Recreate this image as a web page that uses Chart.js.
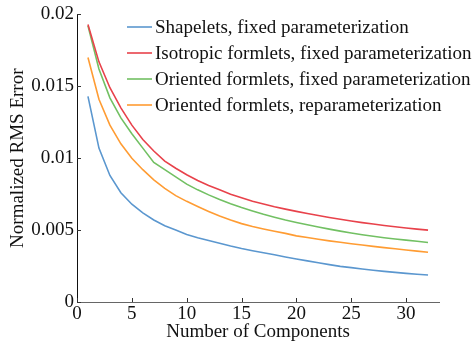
<!DOCTYPE html>
<html>
<head>
<meta charset="utf-8">
<script src="https://cdn.jsdelivr.net/npm/chart.js@4/dist/chart.umd.min.js"></script>
<style>
  html, body { margin: 0; padding: 0; background: #fff; }
  #wrap { width: 474px; height: 343px; }
</style>
</head>
<body>
<div id="wrap"><canvas id="errChart" width="474" height="343"></canvas></div>
<script>
// ---- data ----
const components = [1, 2, 3, 4, 5, 6, 7, 8, 9, 10, 11, 12, 13, 14, 15, 16,
                    17, 18, 19, 20, 21, 22, 23, 24, 25, 26, 27, 28, 29, 30, 31, 32];

const shapeletsFixed = [0.0143, 0.0107, 0.0088, 0.0076, 0.0068, 0.0062, 0.0057, 0.0053,
                        0.0050, 0.0047, 0.00447, 0.00427, 0.00408, 0.00389, 0.00372, 0.00357,
                        0.00343, 0.00328, 0.00313, 0.00299, 0.00286, 0.00273, 0.0026, 0.00248,
                        0.00239, 0.0023, 0.00221, 0.00213, 0.00206, 0.00199, 0.00193, 0.00188];
const isotropicFixed = [0.0193, 0.0167, 0.0149, 0.0135, 0.0123, 0.0113, 0.0105, 0.0098,
                        0.0093, 0.00885, 0.00845, 0.0081, 0.0078, 0.0075, 0.00725, 0.0070,
                        0.00682, 0.00663, 0.00646, 0.0063, 0.00615, 0.00601, 0.00588, 0.00575,
                        0.00563, 0.00552, 0.00542, 0.00532, 0.00523, 0.00515, 0.00507, 0.0050];
const orientedFixed  = [0.0192, 0.0162, 0.0142, 0.0128, 0.0117, 0.0107, 0.0097, 0.0092,
                        0.0087, 0.0082, 0.0078, 0.00745, 0.00713, 0.00684, 0.00657, 0.00633,
                        0.0061, 0.0059, 0.0057, 0.00553, 0.00537, 0.00522, 0.00507, 0.00493,
                        0.0048, 0.00468, 0.00457, 0.00447, 0.00438, 0.0043, 0.00422, 0.00414];
const orientedReparam = [0.0170, 0.0141, 0.0123, 0.0110, 0.0100, 0.0092, 0.0085, 0.0079,
                         0.0074, 0.0070, 0.00664, 0.0063, 0.00598, 0.0057, 0.00545, 0.00525,
                         0.00508, 0.00492, 0.00477, 0.0046, 0.00448, 0.00436, 0.00425, 0.00415,
                         0.00405, 0.00396, 0.00387, 0.00378, 0.0037, 0.00362, 0.00354, 0.00346];

const seriesLabels = [
    'Shapelets, fixed parameterization',
    'Isotropic formlets, fixed parameterization',
    'Oriented formlets, fixed parameterization',
    'Oriented formlets, reparameterization'
];
const seriesColors = ['#5b97cf', '#e8424b', '#72c063', '#ff9c33'];

const xTicks = [0, 5, 10, 15, 20, 25, 30];
const yTicks = [0, 0.005, 0.01, 0.015, 0.02];
const yTickLabels = ['0', '0.005', '0.01', '0.015', '0.02'];

const FONT = 'Liberation Serif';
const FSIZE = 19;

// ---- helpers ----
const toPoints = (vals) => vals.map((v, i) => ({ x: components[i], y: v }));

// inward tick marks (matlab style)
const inwardTicks = {
    id: 'inwardTicks',
    afterDraw(chart) {
        const { ctx, chartArea: a, scales: { x, y } } = chart;
        ctx.save();
        ctx.strokeStyle = '#333';
        ctx.lineWidth = 1;
        ctx.beginPath();
        xTicks.forEach(v => {
            const px = Math.round(x.getPixelForValue(v)) + 0.5;
            ctx.moveTo(px, a.bottom);
            ctx.lineTo(px, a.bottom - 4);
        });
        yTicks.forEach(v => {
            const py = Math.round(y.getPixelForValue(v)) + 0.5;
            ctx.moveTo(a.left, py);
            ctx.lineTo(a.left + 4, py);
        });
        ctx.stroke();
        ctx.restore();
    }
};

// legend drawn inside the plot, top right
const insideLegend = {
    id: 'insideLegend',
    afterDraw(chart) {
        const { ctx } = chart;
        ctx.save();
        ctx.font = `${FSIZE}px "${FONT}"`;
        ctx.textBaseline = 'middle';
        ctx.fillStyle = '#111';
        chart.data.datasets.forEach((ds, i) => {
            const yy = 27 + i * 26;
            ctx.strokeStyle = ds.borderColor;
            ctx.lineWidth = 1.6;
            ctx.beginPath();
            ctx.moveTo(127, yy);
            ctx.lineTo(152, yy);
            ctx.stroke();
            ctx.fillText(ds.label, 155, yy + 1);
        });
        ctx.restore();
    }
};

const ctx = document.getElementById('errChart').getContext('2d');
new Chart(ctx, {
    type: 'line',
    data: {
        datasets: [shapeletsFixed, isotropicFixed, orientedFixed, orientedReparam].map((vals, i) => ({
            label: seriesLabels[i],
            data: toPoints(vals),
            borderColor: seriesColors[i],
            backgroundColor: seriesColors[i],
            borderWidth: 1.6,
            pointRadius: 0,
            tension: 0,
            fill: false,
        }))
    },
    options: {
        responsive: false,
        animation: false,
        layout: { padding: { top: 12, right: 35, left: 7, bottom: 0 } },
        plugins: {
            legend: { display: false },
            tooltip: { enabled: false }
        },
        scales: {
            x: {
                type: 'linear',
                min: 0,
                max: 33,
                afterBuildTicks: (s) => { s.ticks = xTicks.map(v => ({ value: v })); },
                afterFit: (s) => { s.height = 41; },
                grid: { display: false, drawTicks: false },
                border: { display: true, color: '#666', width: 1 },
                ticks: {
                    padding: 1,
                    color: '#111',
                    font: { family: FONT, size: FSIZE },
                    maxRotation: 0,
                    callback: (v) => String(v)
                },
                title: {
                    display: true,
                    text: 'Number of Components',
                    color: '#111',
                    font: { family: FONT, size: FSIZE },
                    padding: { top: -6, bottom: 0 }
                }
            },
            y: {
                type: 'linear',
                min: 0,
                max: 0.02,
                afterBuildTicks: (s) => { s.ticks = yTicks.map(v => ({ value: v })); },
                afterFit: (s) => { s.width = 70; },
                grid: { display: false, drawTicks: false },
                border: { display: true, color: '#111', width: 1 },
                ticks: {
                    padding: 3,
                    color: '#111',
                    font: { family: FONT, size: FSIZE },
                    callback: (v) => {
                        const k = yTicks.indexOf(v);
                        return k >= 0 ? yTickLabels[k] : '';
                    }
                },
                title: {
                    display: true,
                    text: 'Normalized RMS Error',
                    color: '#111',
                    font: { family: FONT, size: FSIZE },
                    padding: { top: 0, bottom: 0 }
                }
            }
        }
    },
    plugins: [inwardTicks, insideLegend]
});
</script>
</body>
</html>
